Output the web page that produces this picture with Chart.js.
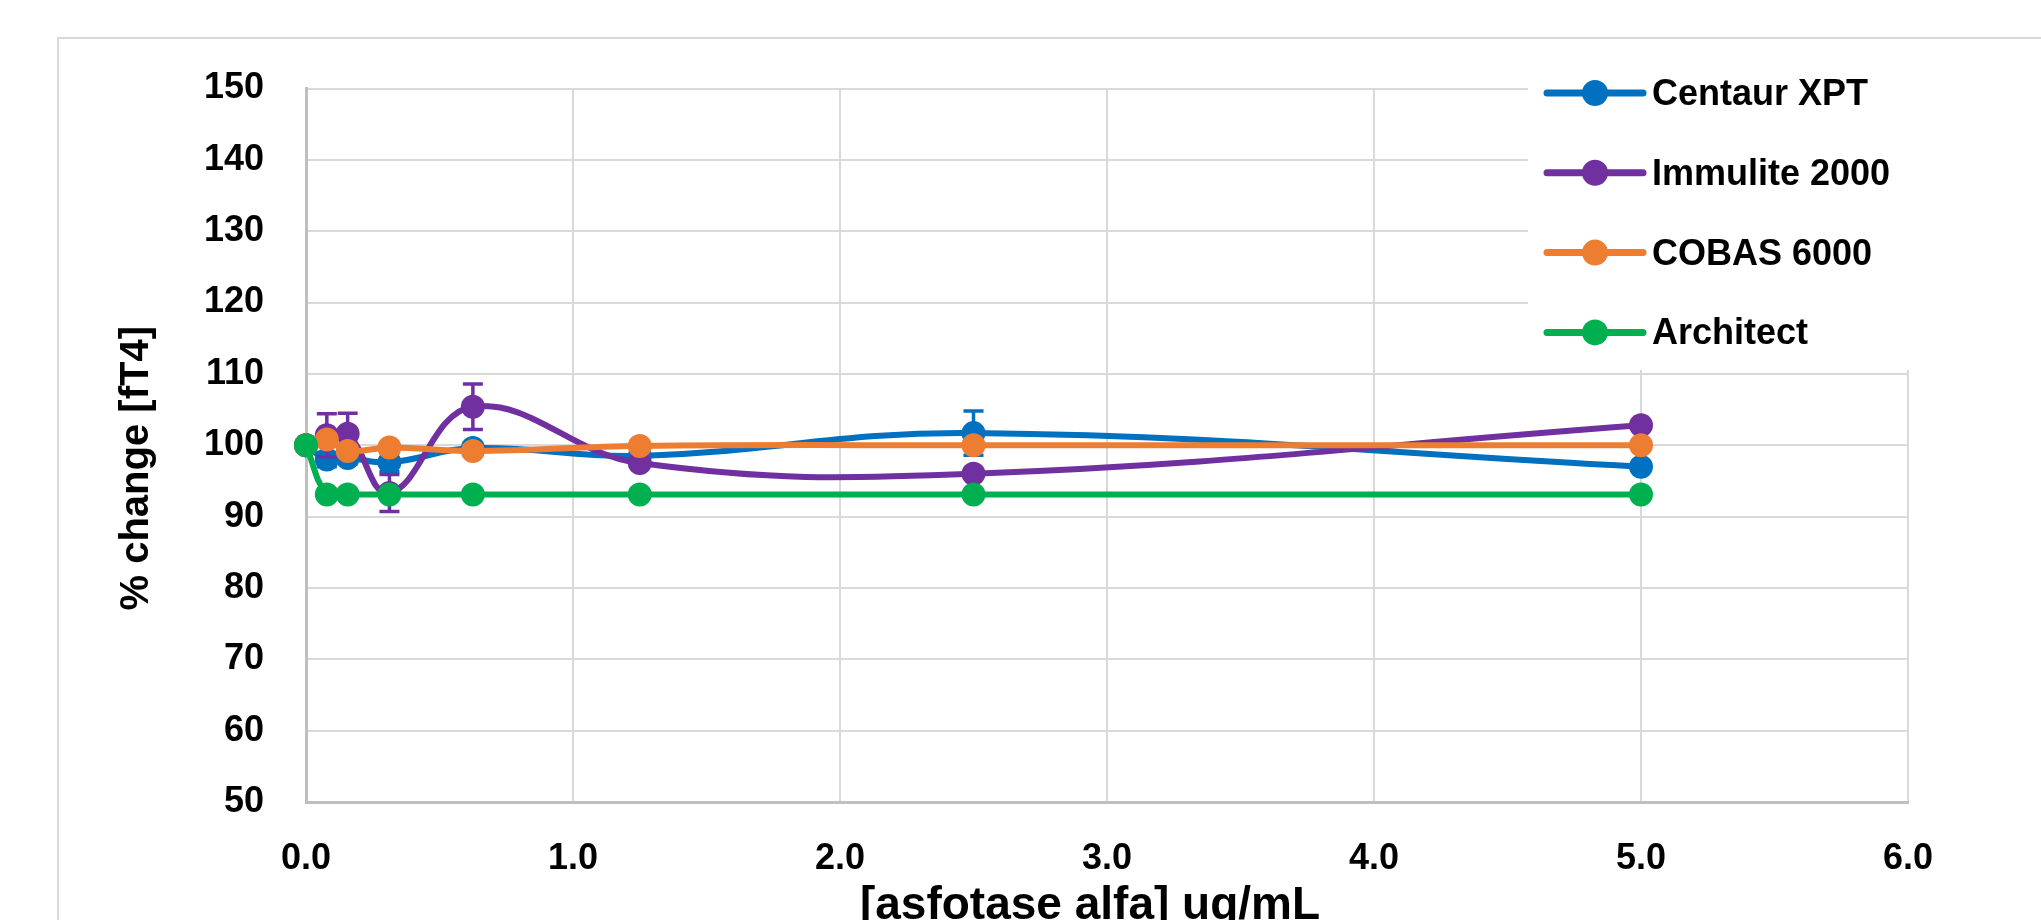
<!DOCTYPE html>
<html>
<head>
<meta charset="utf-8">
<script src="https://cdn.jsdelivr.net/npm/chart.js@4.4.0/dist/chart.umd.min.js"></script>
<style>
  html, body { margin: 0; padding: 0; background: #fff; overflow: hidden; }
  #frame { position: absolute; left: 57px; top: 37px; border: 2px solid #d9d9d9; }
  #frame canvas { display: block; }
</style>
</head>
<body>
<div id="frame"><canvas id="fT4Chart" width="2000" height="920"></canvas></div>
<script>
// concentration of asfotase alfa (ug/mL)
var conc = [0, 0.078, 0.156, 0.3125, 0.625, 1.25, 2.5, 5.0];

var seriesNames = ["Centaur XPT", "Immulite 2000", "COBAS 6000", "Architect"];
var centaur  = [100, 98.0, 98.2, 97.6, 99.6, 98.5, 101.7, 97.0];
var immulite = [100, 101.4, 101.6, 93.3, 105.4, 97.5, 96.0, 102.8];
var cobas    = [100, 100.8, 99.2, 99.7, 99.2, 99.9, 100.0, 100.0];
var architect = [100, 93.1, 93.1, 93.1, 93.1, 93.1, 93.1, 93.1];

// +/- error bars
var centaurErr  = [0, 1.0, 0.8, 1.3, 0, 0, 3.1, 0];
var immuliteErr = [0, 3.0, 2.9, 2.6, 3.2, 0, 0, 0];

var xTicks = [0, 1, 2, 3, 4, 5, 6];
var yTicks = [50, 60, 70, 80, 90, 100, 110, 120, 130, 140, 150];

var xTitle = "[asfotase alfa] ug/mL";
var yTitle = "% change [fT4]";

var colors = ["#0070C0", "#7030A0", "#ED7D31", "#00B050"];

function pts(vals) {
    return conc.map(function (c, i) { return { x: c, y: vals[i] }; });
}

function makeSet(i, vals, errs, order) {
    return {
        label: seriesNames[i],
        data: pts(vals),
        errorBars: errs,
        borderColor: colors[i],
        backgroundColor: colors[i],
        pointBackgroundColor: colors[i],
        pointBorderColor: colors[i],
        pointRadius: 12,
        pointBorderWidth: 0,
        borderWidth: 6,
        tension: 0.4,
        clip: false,
        order: order
    };
}

// error bars drawn with each series so layering follows the lines
var errorBarPlugin = {
    id: "errorBars",
    afterDatasetDraw: function (chart, args) {
        var ds = chart.data.datasets[args.index];
        if (!ds.errorBars) return;
        var xs = chart.scales.x, ys = chart.scales.y, ctx = chart.ctx;
        ctx.save();
        ctx.strokeStyle = ds.borderColor;
        ctx.lineWidth = 3.5;
        ds.data.forEach(function (p, k) {
            var e = ds.errorBars[k];
            if (!e) return;
            var px = xs.getPixelForValue(p.x);
            var top = ys.getPixelForValue(p.y + e);
            var bot = ys.getPixelForValue(p.y - e);
            ctx.beginPath();
            ctx.moveTo(px, top); ctx.lineTo(px, bot);
            ctx.moveTo(px - 10, top); ctx.lineTo(px + 10, top);
            ctx.moveTo(px - 10, bot); ctx.lineTo(px + 10, bot);
            ctx.stroke();
        });
        ctx.restore();
    }
};

// axis titles, placed off-centre like in the excel original
var axisTitles = {
    id: "axisTitles",
    afterDraw: function (chart) {
        var ctx = chart.ctx, a = chart.chartArea;
        ctx.save();
        ctx.fillStyle = "#000";
        ctx.textAlign = "center";
        ctx.font = "bold 46px 'Liberation Sans', Arial, sans-serif";
        ctx.textBaseline = "alphabetic";
        ctx.fillText(xTitle, (a.left + a.right) / 2 - 17, 880);
        ctx.font = "bold 40px 'Liberation Sans', Arial, sans-serif";
        ctx.textBaseline = "middle";
        ctx.translate(78, (a.top + a.bottom) / 2 + 23);
        ctx.rotate(-Math.PI / 2);
        ctx.fillText(yTitle, 0, 0);
        ctx.restore();
    }
};

// legend sits on top of the plot area, like the excel one
var overlayLegend = {
    id: "overlayLegend",
    afterDraw: function (chart) {
        var ctx = chart.ctx, a = chart.chartArea;
        ctx.save();
        ctx.fillStyle = "#fff";
        ctx.fillRect(a.right - 380, 8, 392, 323);
        ctx.font = "bold 36px 'Liberation Sans', Arial, sans-serif";
        ctx.textBaseline = "middle";
        ctx.textAlign = "left";
        chart.data.datasets.forEach(function (ds, i) {
            var y = 54 + i * 79.8;
            ctx.strokeStyle = ds.borderColor;
            ctx.lineWidth = 7;
            ctx.lineCap = "round";
            ctx.beginPath();
            ctx.moveTo(a.right - 361, y);
            ctx.lineTo(a.right - 265, y);
            ctx.stroke();
            ctx.fillStyle = ds.borderColor;
            ctx.beginPath();
            ctx.arc(a.right - 313, y, 13, 0, Math.PI * 2);
            ctx.fill();
            ctx.fillStyle = "#000";
            ctx.fillText(ds.label, a.right - 256, y + 2);
        });
        ctx.restore();
    }
};

Chart.defaults.font.family = "'Liberation Sans', Arial, sans-serif";
Chart.defaults.color = "#000";

var canvasElement = document.getElementById("fT4Chart");
var config = {
    type: "line",
    data: {
        datasets: [
            makeSet(0, centaur, centaurErr, 3),
            makeSet(1, immulite, immuliteErr, 2),
            makeSet(2, cobas, null, 1),
            makeSet(3, architect, null, 0)
        ]
    },
    options: {
        responsive: false,
        animation: false,
        events: [],
        layout: { padding: { left: 0, top: 49.5, right: 151, bottom: 0 } },
        plugins: { legend: { display: false }, tooltip: { enabled: false } },
        scales: {
            x: {
                type: "linear",
                min: 0,
                max: 6,
                afterBuildTicks: function (s) { s.ticks = xTicks.map(function (v) { return { value: v }; }); },
                afterFit: function (s) { s.height = 157; },
                ticks: {
                    padding: 35,
                    font: { size: 36, weight: "bold" },
                    callback: function (v) { return Number(v).toFixed(1); }
                },
                grid: { color: "#d9d9d9", lineWidth: 2, drawTicks: false },
                border: { color: "#bfbfbf", width: 3 }
            },
            y: {
                min: 50,
                max: 150,
                afterBuildTicks: function (s) { s.ticks = yTicks.map(function (v) { return { value: v }; }); },
                afterFit: function (s) {
                    s.width = 247;
                    // tick padding otherwise pushes the plot top down
                    s.paddingTop = 20;
                    s.paddingBottom = 20;
                },
                ticks: {
                    padding: 42,
                    font: { size: 36, weight: "bold" }
                },
                grid: { color: "#d9d9d9", lineWidth: 2, drawTicks: false },
                border: { color: "#bfbfbf", width: 3 }
            }
        }
    },
    plugins: [errorBarPlugin, axisTitles, overlayLegend]
};
var fT4Chart = new Chart(canvasElement, config);
</script>
</body>
</html>
